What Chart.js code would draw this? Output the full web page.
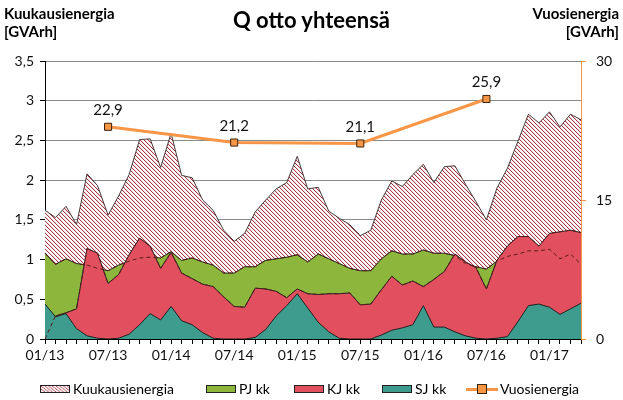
<!DOCTYPE html>
<html>
<head>
<meta charset="utf-8">
<script src="https://cdn.jsdelivr.net/npm/chart.js@4/dist/chart.umd.min.js"></script>
<style>
  body { margin: 0; background: #fff; font-family: Lato, "Open Sans", sans-serif; }
  #wrap { position: relative; width: 623px; height: 400px; overflow: hidden; }
  #c { position: absolute; left: 0; top: 0; }
  .hd { position: absolute; font-weight: bold; font-size: 15px; line-height: 18px; color: #000; }
  #title { position: absolute; left: 0; width: 623px; top: 6px; text-align: center; font-weight: bold; font-size: 22px; color: #000; }
  .lg { position: absolute; top: 380px; font-size: 14px; line-height: 18px; color: #000; white-space: nowrap; }
  .sw { position: absolute; top: 385px; width: 30px; height: 8px; border: 1px solid #222; box-sizing: border-box; }
</style>
</head>
<body>
<div id="wrap">
  <canvas id="c" width="623" height="400"></canvas>
  <div class="hd" style="left:4px;top:4px;">Kuukausienergia<br>[GVArh]</div>
  <div class="hd" style="right:4px;top:4px;text-align:right;">Vuosienergia<br>[GVArh]</div>
  <div id="title">Q otto yhteensä</div>

  <canvas id="swHatch" class="sw" width="30" height="8" style="left:40px;"></canvas>
  <div class="lg" style="left:73px;">Kuukausienergia</div>
  <div class="sw" style="left:206px;background:#8db63d;"></div>
  <div class="lg" style="left:239px;">PJ kk</div>
  <div class="sw" style="left:294px;background:#e2505f;"></div>
  <div class="lg" style="left:327px;">KJ kk</div>
  <div class="sw" style="left:382px;background:#3d9c8d;"></div>
  <div class="lg" style="left:415px;">SJ kk</div>
  <div style="position:absolute;left:466px;top:388px;width:32px;height:3px;background:#f79646;"></div>
  <div style="position:absolute;left:477px;top:384px;width:10px;height:10px;box-sizing:border-box;background:#f79646;border:1px solid #3a2410;"></div>
  <div class="lg" style="left:500px;">Vuosienergia</div>
</div>
<script>
// kuukaudet 01/13 - 04/17
var months = [
  "01/13","02/13","03/13","04/13","05/13","06/13","07/13","08/13","09/13","10/13","11/13","12/13",
  "01/14","02/14","03/14","04/14","05/14","06/14","07/14","08/14","09/14","10/14","11/14","12/14",
  "01/15","02/15","03/15","04/15","05/15","06/15","07/15","08/15","09/15","10/15","11/15","12/15",
  "01/16","02/16","03/16","04/16","05/16","06/16","07/16","08/16","09/16","10/16","11/16","12/16",
  "01/17","02/17","03/17","04/17"
];

// Kuukausienergia (GVArh)
var kuukausi = [
  1.62,1.53,1.67,1.44,2.08,1.93,1.56,1.80,2.07,2.51,2.52,2.16,
  2.59,2.06,2.03,1.75,1.62,1.37,1.23,1.33,1.60,1.75,1.89,1.97,
  2.30,1.89,1.91,1.61,1.52,1.44,1.30,1.37,1.75,1.99,1.92,2.07,
  2.20,1.97,2.17,2.18,1.95,1.73,1.50,1.90,2.15,2.49,2.83,2.72,
  2.86,2.67,2.83,2.76
];
var pjKk = [
  1.08,0.94,1.01,0.95,0.93,0.89,0.86,0.93,0.98,1.02,1.03,1.02,
  1.10,0.99,1.02,0.97,0.93,0.83,0.83,0.91,0.91,0.99,1.01,1.03,
  1.06,0.97,1.07,1.01,0.95,0.89,0.86,0.86,1.01,1.11,1.07,1.07,
  1.12,1.08,1.08,1.05,0.95,0.91,0.88,0.98,1.04,1.07,1.11,1.11,
  1.13,1.01,1.07,0.94
];
var kjKk = [
  0.00,0.29,0.33,0.38,1.14,1.08,0.70,0.81,1.06,1.27,1.17,0.89,
  1.09,0.83,0.76,0.69,0.66,0.53,0.41,0.40,0.64,0.63,0.60,0.52,
  0.63,0.57,0.56,0.57,0.57,0.58,0.43,0.44,0.62,0.79,0.68,0.73,
  0.66,0.75,0.85,1.07,0.97,0.90,0.63,0.99,1.17,1.29,1.29,1.17,
  1.33,1.35,1.37,1.34
];
var sjKk = [
  0.44,0.28,0.32,0.13,0.04,0.01,0.00,0.01,0.06,0.18,0.32,0.24,
  0.41,0.23,0.18,0.08,0.01,0.00,0.00,0.00,0.02,0.12,0.29,0.42,
  0.57,0.39,0.21,0.09,0.01,0.00,0.00,0.00,0.05,0.11,0.14,0.18,
  0.42,0.15,0.15,0.09,0.04,0.01,0.00,0.01,0.03,0.22,0.42,0.44,
  0.40,0.31,0.38,0.45
];

// Vuosienergia (oikea akseli)
var vuosiMonths = ["07/13","07/14","07/15","07/16"];
var vuosi = [22.9, 21.2, 21.1, 25.9];

var leftTicks = [0, 0.5, 1, 1.5, 2, 2.5, 3, 3.5];
var rightTicks = [0, 15, 30];

function hatch() {
  var c = document.createElement('canvas');
  c.width = 4; c.height = 4;
  var g = c.getContext('2d');
  g.fillStyle = '#fff';
  g.fillRect(0, 0, 4, 4);
  for (var i = 0; i < 4; i++) {
    g.fillStyle = '#a83844';
    g.fillRect(i, i, 1, 1);
    g.fillStyle = '#f3dcdf';
    g.fillRect((i + 1) % 4, i, 1, 1);
  }
  return g.createPattern(c, 'repeat');
}
var hatchFill = hatch();

// legend swatch
var sw = document.getElementById('swHatch').getContext('2d');
sw.fillStyle = hatchFill;
sw.fillRect(0, 0, 30, 8);

var fmt = function (v) { return String(v).replace('.', ','); };

var valueLabels = {
  id: 'valueLabels',
  afterDatasetsDraw: function (chart) {
    var meta = chart.getDatasetMeta(0);
    var ctx = chart.ctx;
    ctx.save();
    ctx.font = '15px Lato, "Open Sans", sans-serif';
    ctx.fillStyle = '#111';
    ctx.textAlign = 'center';
    ctx.textBaseline = 'bottom';
    meta.data.forEach(function (pt, i) {
      ctx.fillText(vuosi[i].toFixed(1).replace('.', ','), pt.x, pt.y - 9);
    });
    ctx.restore();
  }
};

var areaLine = '#222';

new Chart(document.getElementById('c'), {
  type: 'line',
  data: {
    labels: months,
    datasets: [
      {
        label: 'Vuosienergia',
        data: vuosiMonths.map(function (m, i) { return { x: m, y: vuosi[i] }; }),
        yAxisID: 'y1',
        borderColor: '#f79646',
        borderWidth: 3,
        pointStyle: 'rect',
        pointRadius: 5,
        pointBackgroundColor: '#f79646',
        pointBorderColor: '#3a2410',
        pointBorderWidth: 1,
        fill: false,
        order: 0
      },
      {
        label: 'pj-piilo',
        data: pjKk,
        borderColor: '#5a1c1c',
        borderWidth: 1,
        borderDash: [4, 3],
        pointRadius: 0,
        fill: false,
        order: 1
      },
      {
        label: 'kj-piilo',
        data: kjKk,
        borderColor: '#5a1c1c',
        borderWidth: 1,
        borderDash: [4, 3],
        pointRadius: 0,
        fill: false,
        order: 1
      },
      {
        label: 'SJ kk',
        data: sjKk,
        borderColor: areaLine,
        borderWidth: 1,
        backgroundColor: '#3d9c8d',
        pointRadius: 0,
        fill: 'origin',
        order: 2
      },
      {
        label: 'KJ kk',
        data: kjKk,
        borderColor: areaLine,
        borderWidth: 1,
        backgroundColor: '#e2505f',
        pointRadius: 0,
        fill: 'origin',
        order: 3
      },
      {
        label: 'PJ kk',
        data: pjKk,
        borderColor: areaLine,
        borderWidth: 1,
        backgroundColor: '#8db63d',
        pointRadius: 0,
        fill: 'origin',
        order: 4
      },
      {
        label: 'Kuukausienergia',
        data: kuukausi,
        borderColor: '#4a3a3a',
        borderWidth: 1,
        backgroundColor: hatchFill,
        pointRadius: 0,
        fill: 'origin',
        order: 5
      }
    ]
  },
  options: {
    responsive: false,
    animation: false,
    layout: { padding: { top: 61, bottom: 38, left: 0, right: 0 } },
    plugins: { legend: { display: false }, tooltip: { enabled: false } },
    elements: { line: { tension: 0 } },
    scales: {
      x: {
        offset: false,
        grid: { drawOnChartArea: false, color: '#000', tickLength: 5 },
        border: { color: '#000', width: 1 },
        ticks: {
          autoSkip: false,
          maxRotation: 0,
          padding: 3,
          color: '#111',
          font: { family: 'Lato, "Open Sans", sans-serif', size: 14 },
          callback: function (v, i) { return i % 6 === 0 ? months[i] : ''; }
        },
        afterFit: function (s) { s.height = 23; }
      },
      y: {
        position: 'left',
        min: 0, max: 3.5,
        afterBuildTicks: function (s) { s.ticks = leftTicks.map(function (v) { return { value: v }; }); },
        grid: { color: '#8a8a8a', tickColor: '#000', tickLength: 5 },
        border: { color: '#000', width: 1 },
        ticks: {
          padding: 6,
          color: '#111',
          font: { family: 'Lato, "Open Sans", sans-serif', size: 14 },
          callback: function (v) { return fmt(v); }
        },
        afterFit: function (s) { s.width = 45; }
      },
      y1: {
        position: 'right',
        min: 0, max: 30,
        afterBuildTicks: function (s) { s.ticks = rightTicks.map(function (v) { return { value: v }; }); },
        grid: { drawOnChartArea: false, color: '#f79646', tickLength: 5 },
        border: { color: '#f79646', width: 1 },
        ticks: {
          padding: 10,
          color: '#111',
          font: { family: 'Lato, "Open Sans", sans-serif', size: 14 }
        },
        afterFit: function (s) { s.width = 42; }
      }
    }
  },
  plugins: [valueLabels]
});
</script>
</body>
</html>
